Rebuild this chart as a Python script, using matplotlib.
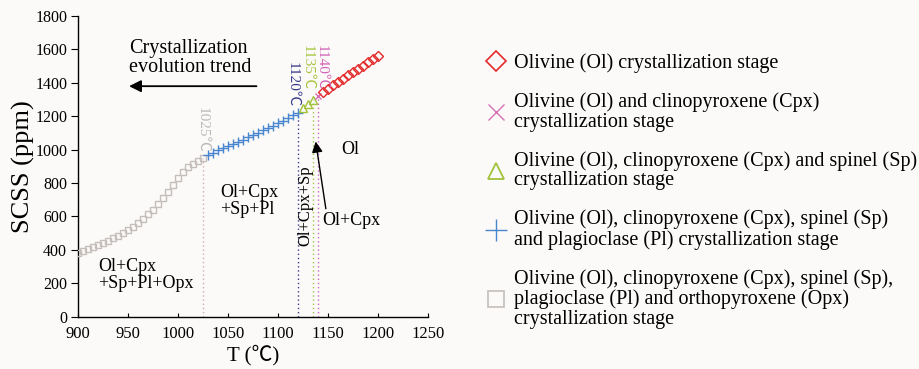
import matplotlib
matplotlib.use("Agg")
import matplotlib.pyplot as plt
from matplotlib.lines import Line2D

plt.rcParams['font.family'] = ['Liberation Serif', 'Noto Sans CJK SC', 'DejaVu Sans']

# --- data ---
# Ol+Cpx+Sp+Pl+Opx stage (squares)
t_opx = [900, 905, 910, 915, 920, 925, 930, 935, 940, 945, 950, 955, 960,
         965, 970, 975, 980, 985, 990, 995, 1000, 1005, 1010, 1015, 1020, 1025]
scss_opx = [380, 392, 404, 416, 428, 442, 456, 470, 486, 502, 520, 540, 562,
            586, 612, 640, 672, 708, 748, 790, 830, 866, 896, 916, 932, 948]

# Ol+Cpx+Sp+Pl stage (plus)
t_pl = [1030, 1035, 1040, 1045, 1050, 1055, 1060, 1065, 1070, 1075,
        1080, 1085, 1090, 1095, 1100, 1105, 1110, 1115, 1120]
scss_pl = [968, 982, 995, 1008, 1021, 1034, 1047, 1060, 1073, 1087,
           1101, 1115, 1129, 1143, 1158, 1173, 1188, 1205, 1222]

# Ol+Cpx+Sp stage (triangles)
t_sp = [1125, 1130, 1135]
scss_sp = [1248, 1272, 1295]

# Ol+Cpx stage (x)
t_cpx = [1140]
scss_cpx = [1322]

# Ol stage (diamonds)
t_ol = [1145, 1150, 1155, 1160, 1165, 1170, 1175, 1180, 1185, 1190, 1195, 1200]
scss_ol = [1345, 1365, 1385, 1404, 1424, 1444, 1463, 1483, 1503, 1522, 1542, 1562]

# boundary temperatures and the SCSS where each dotted line stops
boundary_t = [1025, 1120, 1135, 1140]
boundary_scss = [948, 1222, 1295, 1322]
boundary_labels = ['1025℃', '1120℃', '1135℃', '1140℃']
boundary_colors = ['#cdb0b4', '#3b3b8c', '#a6c43c', '#d466b8']

legend_labels = [
    'Olivine (Ol) crystallization stage',
    'Olivine (Ol) and clinopyroxene (Cpx)\ncrystallization stage',
    'Olivine (Ol), clinopyroxene (Cpx) and spinel (Sp)\ncrystallization stage',
    'Olivine (Ol), clinopyroxene (Cpx), spinel (Sp)\nand plagioclase (Pl) crystallization stage',
    'Olivine (Ol), clinopyroxene (Cpx), spinel (Sp),\nplagioclase (Pl) and orthopyroxene (Opx)\ncrystallization stage',
]

bg = '#fbfaf9'
fig = plt.figure(figsize=(9.19, 3.69), dpi=100, facecolor=bg)
ax = fig.add_axes([0.0852, 0.1417, 0.3808, 0.8149], facecolor=bg)

c_ol, c_cpx, c_sp, c_pl, c_opx = '#e22a2a', '#d670b4', '#a2c23a', '#4a86d0', '#c6bebb'

# dotted boundaries
ax.vlines(boundary_t, 0, boundary_scss, colors=boundary_colors,
          linestyles=(0, (1, 2)), linewidth=1.0, zorder=1)

ax.plot(t_opx, scss_opx, 's', ms=5, mfc='none', mec=c_opx, mew=1.0, zorder=3)
ax.plot(t_pl, scss_pl, '+', ms=7, color=c_pl, mew=1.0, zorder=3)
ax.plot(t_sp, scss_sp, '^', ms=6, mfc='none', mec=c_sp, mew=1.0, zorder=3)
ax.plot(t_cpx, scss_cpx, 'x', ms=5, color=c_cpx, mew=1.0, zorder=3)
ax.plot(t_ol, scss_ol, 'D', ms=5, mfc='none', mec=c_ol, mew=1.0, zorder=3)

# boundary temperature labels
label_pos = [(1024, 1120), (1114, 1390), (1129, 1492), (1143, 1492)]
for (x, y), txt, col in zip(label_pos, boundary_labels, boundary_colors):
    ax.text(x, y, txt, rotation=-90, ha='center', va='center', fontsize=11,
            color='#bdb8b8' if txt == '1025℃' else col)

# annotations
ax.text(951, 1546, 'Crystallization\nevolution trend', ha='left', va='center',
        fontsize=14.5, linespacing=1.0)
ax.annotate('', xy=(948, 1380), xytext=(1081, 1380),
            arrowprops=dict(arrowstyle='-|>', color='black', lw=1.3,
                            mutation_scale=18))
ax.text(1042, 693, 'Ol+Cpx\n+Sp+Pl', ha='left', va='center', fontsize=13,
        linespacing=1.0)
ax.text(920, 247, 'Ol+Cpx\n+Sp+Pl+Opx', ha='left', va='center', fontsize=13,
        linespacing=1.0)
ax.text(1127.5, 665, 'Ol+Cpx+Sp', rotation=90, ha='center', va='center',
        fontsize=12)
ax.text(1172, 1000, 'Ol', ha='center', va='center', fontsize=13)
ax.text(1144, 576, 'Ol+Cpx', ha='left', va='center', fontsize=13)
ax.annotate('', xy=(1137, 1065), xytext=(1148, 630),
            arrowprops=dict(arrowstyle='-|>', color='black', lw=1.0,
                            mutation_scale=16))

ax.set_xlim(900, 1250)
ax.set_ylim(0, 1800)
ax.set_xticks(range(900, 1251, 50))
ax.set_yticks(range(0, 1801, 200))
ax.tick_params(axis='x', direction='in', length=3, labelsize=12, pad=7)
ax.tick_params(axis='y', direction='out', length=5, labelsize=11.5, pad=3)
for s in ['top', 'right']:
    ax.spines[s].set_visible(False)
ax.spines['left'].set_linewidth(1.0)
ax.spines['bottom'].set_linewidth(1.0)
ax.set_xlabel('T (℃)', fontsize=15, labelpad=2)
ax.set_ylabel('SCSS (ppm)', fontsize=19, labelpad=0)

handles = [
    Line2D([], [], ls='none', marker='D', ms=10, mfc='none', mec=c_ol, mew=1.2),
    Line2D([], [], ls='none', marker='x', ms=11, color=c_cpx, mew=1.0),
    Line2D([], [], ls='none', marker='^', ms=12, mfc='none', mec=c_sp, mew=1.3),
    Line2D([], [], ls='none', marker='+', ms=16, color=c_pl, mew=1.0),
    Line2D([], [], ls='none', marker='s', ms=11, mfc='none', mec=c_opx, mew=1.2),
]
leg = fig.legend(handles, legend_labels, loc='upper left',
                 bbox_to_anchor=(0.527, 0.855), frameon=False, fontsize=14.5,
                 handlelength=1.2, handletextpad=0.25, labelspacing=0.95,
                 borderaxespad=0, borderpad=0)
for t in leg.get_texts():
    t.set_linespacing(1.05)

fig.savefig('out.png', dpi=100, facecolor=bg)
